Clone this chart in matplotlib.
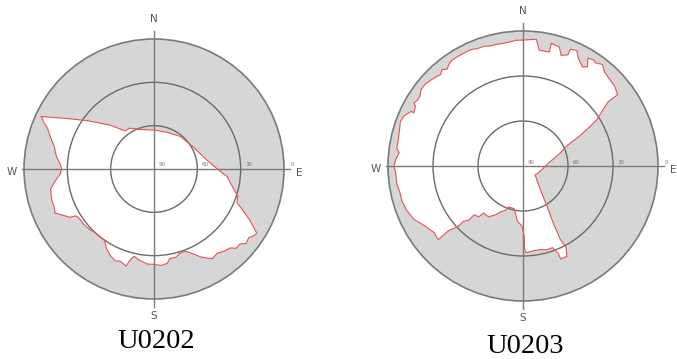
import numpy as np
import matplotlib
matplotlib.use("Agg")
import matplotlib.pyplot as plt

# horizon profile: azimuth (deg, clockwise from N) and elevation (deg) of the sky mask
az_u0202 = [295, 300, 306, 315, 323, 329, 341, 0, 19, 39, 60, 80, 89, 96, 103, 108, 112, 115, 118, 122,
            124, 126, 129, 131, 134, 136, 139, 143, 147, 149, 152, 155, 159, 163, 166, 170, 172, 176, 180, 184,
            189, 193, 195, 196, 200, 203, 207, 211, 215, 218, 223, 226, 232, 236, 239, 240, 244, 246, 249, 253,
            259, 261, 264, 267, 270, 273, 277, 283, 287, 291, 293]
el_u0202 = [4, 20, 33, 47, 57, 57, 61, 63, 63, 61, 59, 53, 47, 39, 34, 29, 28, 22, 15, 6,
            7, 9, 8, 11, 11, 14, 15, 17, 16, 18, 21, 25, 29, 29, 27, 27, 24, 23, 24, 24,
            26, 28, 24, 20, 22, 21, 23, 26, 30, 30, 30, 29, 28, 28, 27, 23, 18, 15, 16, 16,
            17, 19, 22, 25, 26, 25, 22, 19, 15, 11, 7]

az_u0203 = [0, 6, 8, 13, 13, 17, 19, 22, 22, 25, 27, 31, 33, 31, 34, 35, 38, 41, 44, 49,
            53, 53, 55, 58, 60, 62, 65, 71, 84, 118, 126, 144, 149, 152, 153, 152, 154, 158, 158, 160,
            164, 168, 173, 178, 179, 179, 181, 186, 189, 192, 199, 202, 206, 209, 214, 220, 221, 225, 225, 227,
            227, 228, 229, 229, 229, 233, 239, 244, 249, 254, 258, 262, 267, 270, 273, 276, 278, 282, 287, 290,
            293, 296, 296, 299, 300, 302, 304, 307, 310, 313, 316, 318, 320, 322, 324, 326, 329, 332, 336, 339,
            342, 345, 348, 353, 357]
el_u0203 = [6, 5, 12, 12, 6, 7, 12, 10, 6, 5, 9, 13, 11, 6, 5, 6, 4, 7, 8, 9,
            11, 19, 25, 32, 40, 47, 57, 64, 73, 79, 80, 70, 59, 47, 35, 29, 23, 23, 27, 32,
            32, 33, 33, 32, 35, 43, 50, 53, 58, 61, 61, 58, 56, 53, 49, 49, 45, 44, 39, 36,
            32, 28, 24, 20, 15, 16, 13, 9, 7, 6, 6, 5, 5, 4, 5, 7, 5, 5, 4, 3,
            4, 7, 9, 8, 6, 7, 7, 5, 5, 6, 7, 8, 6, 8, 6, 5, 5, 5, 5, 6,
            6, 7, 7, 7, 6]

ring_elev = [60, 30]
ring_labels = ["90", "60", "30", "0"]
titles = ["U0202", "U0203"]

# figure in pixel coordinates (y down)
fig = plt.figure(figsize=(6.77, 3.59), dpi=100)
ax = fig.add_axes([0, 0, 1, 1])
ax.set_xlim(0, 677)
ax.set_ylim(359, 0)
ax.axis("off")

GRAY = "#d6d6d6"
LINE = "#7a7a7a"


def sky(az, el, cx, cy, R, title, title_y):
    az = np.radians(az)
    z = (90 - np.array(el)) * R / 90
    x = cx + z * np.sin(az)
    y = cy - z * np.cos(az)

    ax.add_patch(plt.Circle((cx, cy), R, fc=GRAY, ec=LINE, lw=1.2, zorder=1))
    ax.fill(x, y, color="white", zorder=2)

    for e in ring_elev:
        r = (90 - e) * R / 90
        ax.add_patch(plt.Circle((cx, cy), r, fc="none", ec="#6a6a6a", lw=1.0, zorder=3))

    ax.plot([cx - R - 2, cx + R + 6], [cy, cy], color=LINE, lw=1.0, zorder=3)
    ax.plot([cx, cx], [cy - R - 8, cy + R + 8], color=LINE, lw=1.0, zorder=3)

    ax.plot(np.append(x, x[0]), np.append(y, y[0]), color="#e05a5a", lw=0.9, zorder=4)

    for i, lab in enumerate(ring_labels):
        ax.text(cx + i * R / 3 + 8, cy - 1.5, lab, fontsize=4, color="#777777",
                ha="center", va="bottom", zorder=5)

    ax.text(cx, cy - R - 20, "N", fontsize=7.5, color="#555555", ha="center", va="center")
    ax.text(cx, cy + R + 17, "S", fontsize=7.5, color="#555555", ha="center", va="center")
    ax.text(cx - R - 12, cy + 3, "W", fontsize=7.5, color="#555555", ha="center", va="center")
    ax.text(cx + R + 15, cy + 4, "E", fontsize=7.5, color="#555555", ha="center", va="center")

    ax.text(cx + 2, title_y, title, fontsize=20.5, family="Liberation Serif",
            ha="center", va="baseline", color="black")


sky(az_u0202, el_u0202, 154, 169, 130, titles[0], 348)
sky(az_u0203, el_u0203, 523, 166, 135, titles[1], 353)

fig.savefig("out.png", dpi=100)
